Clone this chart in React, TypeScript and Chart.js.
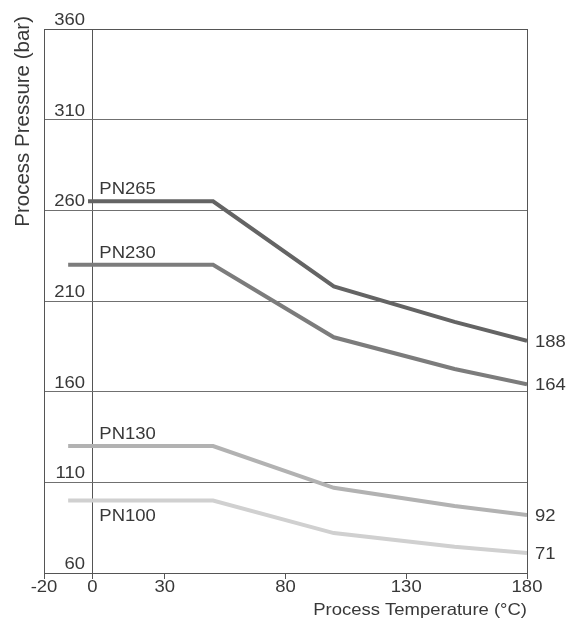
import { useEffect, useRef } from 'react';
import { Chart, registerables } from 'chart.js';

Chart.register(...registerables);

// ---- data ----
const temperatures = [-10, 50, 100, 150, 180];
const pn265 = [265, 265, 218, 198.5, 188];
const pn230 = [230, 230, 190, 172.5, 164];
const pn130 = [130, 130, 107, 97, 92];
const pn100 = [100, 100, 82, 74.5, 71];
const seriesNames = ['PN265', 'PN230', 'PN130', 'PN100'];
const seriesColors = ['#646464', '#7c7c7c', '#b2b2b2', '#d0d0d0'];
const xTickValues = [-20, 0, 30, 80, 130, 180];
const yTickValues = [60, 110, 160, 210, 260, 310, 360];
const xTitle = 'Process Temperature (°C)';
const yTitle = 'Process Pressure (bar)';

const FONT = '"Liberation Sans", Arial, Helvetica, sans-serif';
const TEXT = '#383838';
const SX = 1.12;
const AXIS = '#555555';
const GRID = '#707070';

function stretchedText(
  ctx: CanvasRenderingContext2D,
  s: string,
  x: number,
  y: number,
  align: CanvasTextAlign,
  size: number,
  sx = SX,
  rotate = false
) {
  ctx.save();
  ctx.translate(x, y);
  ctx.scale(sx, 1);
  if (rotate) ctx.rotate(-Math.PI / 2);
  ctx.font = `${size}px ${FONT}`;
  ctx.fillStyle = TEXT;
  ctx.textAlign = align;
  ctx.textBaseline = 'alphabetic';
  ctx.fillText(s, 0, 0);
  ctx.restore();
}

const textPlugin = {
  id: 'textPlugin',
  beforeDraw(chart: any) {
    const ctx = chart.ctx as CanvasRenderingContext2D;
    ctx.save();
    ctx.fillStyle = '#ffffff';
    ctx.fillRect(0, 0, chart.width, chart.height);
    ctx.restore();
  },
  afterDraw(chart: any) {
    const ctx = chart.ctx as CanvasRenderingContext2D;
    const xs = chart.scales.x;
    const ys = chart.scales.y;
    const area = chart.chartArea;
    const size = 16.5;

    // x tick labels
    xs.ticks.forEach((t: any) => {
      const px = xs.getPixelForValue(t.value);
      stretchedText(ctx, String(t.value), px, area.bottom + 18.5, 'center', size);
    });

    // y tick labels (inside the plot, above grid lines, white backdrop)
    ys.ticks.forEach((t: any) => {
      const py = ys.getPixelForValue(t.value);
      const label = String(t.value);
      ctx.save();
      ctx.font = `${size}px ${FONT}`;
      const w = ctx.measureText(label).width * SX;
      ctx.restore();
      const right = 85;
      if (t.value !== 360) {
        ctx.save();
        ctx.fillStyle = '#ffffff';
        ctx.fillRect(right - w - 2, py - 4 - 13, w + 5, 14);
        ctx.restore();
      }
      stretchedText(ctx, label, right, py - 4, 'right', size);
    });

    // series names and end values
    chart.data.datasets.forEach((ds: any, i: number) => {
      const first = ds.data[0];
      const last = ds.data[ds.data.length - 1];
      const yFirst = ys.getPixelForValue(first.y);
      const xName = xs.getPixelForValue(0) + 7;
      const below = i === seriesNames.length - 1;
      stretchedText(ctx, seriesNames[i], xName, below ? yFirst + 21 : yFirst - 7, 'left', size);
      const yLast = ys.getPixelForValue(last.y);
      stretchedText(ctx, String(last.y), area.right + 8, yLast + 6, 'left', size);
    });

    // axis titles
    stretchedText(ctx, xTitle, area.right, area.bottom + 41.5, 'right', size);
    stretchedText(ctx, yTitle, 29, 16, 'right', 20.5, 1, true);
  },
};

function makeDataset(i: number, values: number[]) {
  return {
    label: seriesNames[i],
    data: temperatures.map((t, k) => ({ x: t, y: values[k] })),
    borderColor: seriesColors[i],
    backgroundColor: seriesColors[i],
    borderWidth: 4,
    pointRadius: 0,
    tension: 0,
    fill: false,
  };
}

export default function App() {
  const ref = useRef<HTMLCanvasElement | null>(null);

  useEffect(() => {
    if (!ref.current) return;
    const chart = new Chart(ref.current, {
      type: 'line',
      data: {
        datasets: [
          makeDataset(0, pn265),
          makeDataset(1, pn230),
          makeDataset(2, pn130),
          makeDataset(3, pn100),
        ],
      },
      options: {
        responsive: false,
        animation: false,
        layout: { padding: { top: 29, right: 43, left: 0, bottom: 0 } },
        plugins: {
          legend: { display: false },
          tooltip: { enabled: false },
          title: { display: false },
        },
        scales: {
          x: {
            type: 'linear',
            min: -20,
            max: 180,
            afterBuildTicks: (s: any) => {
              s.ticks = xTickValues.map((v) => ({ value: v }));
            },
            afterFit: (s: any) => {
              s.height = 66;
            },
            ticks: { color: 'rgba(0,0,0,0)', autoSkip: false, maxRotation: 0, font: { size: 15 } },
            grid: {
              color: (c: any) =>
                c.tick && (c.tick.value === 0 || c.tick.value === 180 || c.tick.value === -20)
                  ? AXIS
                  : 'rgba(0,0,0,0)',
              tickColor: AXIS,
              tickLength: 6,
              lineWidth: 1,
            },
            border: { color: AXIS, width: 1 },
          },
          y: {
            type: 'linear',
            min: 60,
            max: 360,
            afterBuildTicks: (s: any) => {
              s.ticks = yTickValues.map((v) => ({ value: v }));
            },
            afterFit: (s: any) => {
              s.width = 44;
            },
            ticks: { display: false },
            grid: {
              color: (c: any) =>
                c.tick && (c.tick.value === 360 || c.tick.value === 60) ? AXIS : GRID,
              drawTicks: false,
              lineWidth: 1,
            },
            border: { color: AXIS, width: 1 },
          },
        },
      },
      plugins: [textPlugin],
    });
    return () => chart.destroy();
  }, []);

  return (
    <div style={{ position: 'absolute', left: 0, top: 0, width: 570, height: 639 }}>
      <canvas ref={ref} width={570} height={639} />
    </div>
  );
}
